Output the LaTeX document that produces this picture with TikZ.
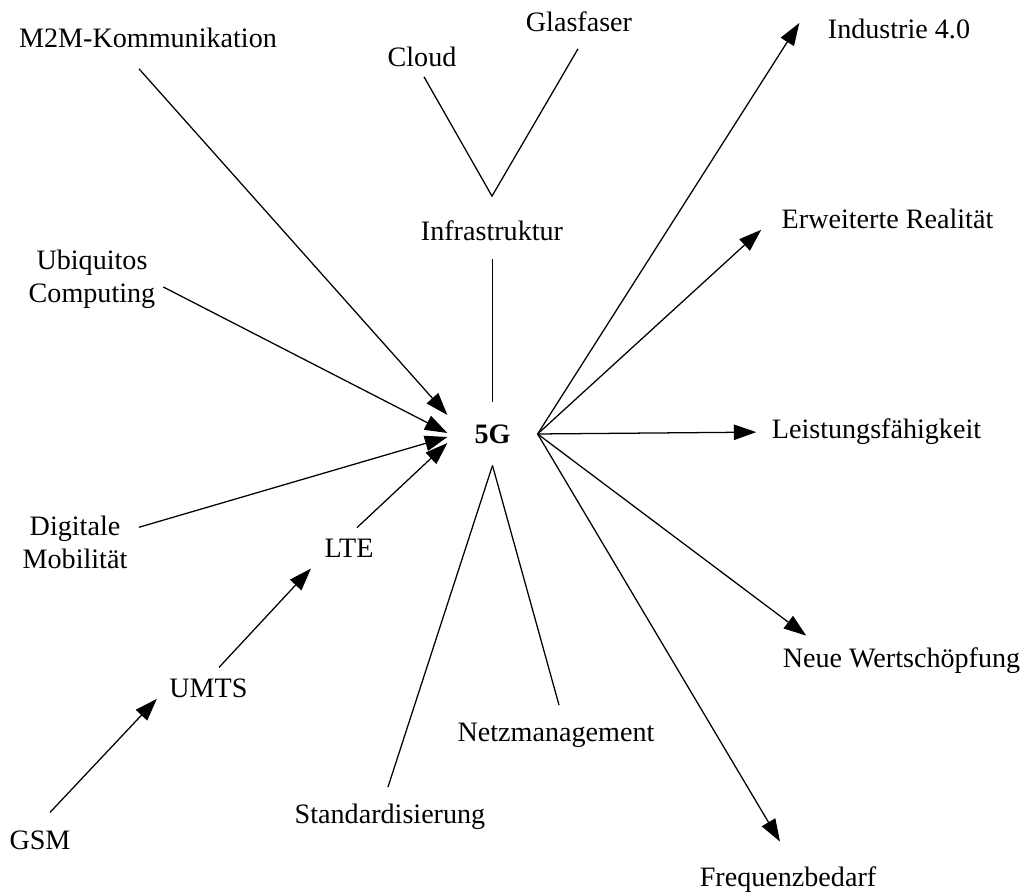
\documentclass[tikz,border=0pt]{standalone}
\usepackage{fontspec}
\setmainfont{Liberation Serif}
\usepackage{xcolor}
\usetikzlibrary{arrows.meta}
\definecolor{ink}{HTML}{000000}
\tikzset{
  lab/.style={text=ink, inner sep=0pt, anchor=base, font=\fontsize{10}{12}\selectfont},
  twolab/.style={text=ink, inner sep=0pt, align=center, font=\fontsize{10}{12}\selectfont},
  hub/.style={text=ink, inner sep=0pt, minimum width=31.7pt, minimum height=22pt, font=\fontsize{10}{12}\selectfont\bfseries},
  link/.style={draw=ink, line width=0.45pt},
  arr/.style={link, -{Triangle[length=8pt,width=5.5pt]}},
}

\begin{document}
\begin{tikzpicture}[x=0.125mm, y=-0.125mm]
  \useasboundingbox (0,0) rectangle (1029,894);

  % centre
  \node[hub] (g5) at (492.5,434) {5G};

  % drivers (left)
  \node[lab] (m2m) at (148,47.5) {M2M-Kommunikation};
  \node[twolab] (ubi) at (92,279.3) {Ubiquitos\\Computing};
  \node[twolab] (dig) at (75,542.3) {Digitale\\Mobilität};
  \node[lab] (lte) at (349,558) {LTE};
  \node[lab] (umts) at (208.5,698) {UMTS};
  \node[lab] (gsm) at (40,850) {GSM};

  % infrastructure (top)
  \node[lab] (infra) at (492,240.5) {Infrastruktur};
  \node[lab] (cloud) at (422,66.5) {Cloud};
  \node[lab] (glas) at (579,31.5) {Glasfaser};

  % requirements (bottom)
  \node[lab] (netz) at (556,742) {Netzmanagement};
  \node[lab] (std) at (390,824) {Standardisierung};

  % effects (right)
  \node[lab] (ind) at (899,38.5) {Industrie 4.0};
  \node[lab] (erw) at (887.5,229) {Erweiterte Realität};
  \node[lab] (leist) at (876.5,439) {Leistungsfähigkeit};
  \node[lab] (neue) at (901.5,668) {Neue Wertschöpfung};
  \node[lab] (freq) at (788,887) {Frequenzbedarf};

  \draw[arr] ([shift={(-9,20.5)}]m2m.south) -- ([shift={(0,-19)}]g5.west);
  \draw[arr] ([shift={(7.5,7.7)}]ubi.east) -- ([shift={(0,-1)}]g5.west);
  \draw[arr] ([shift={(11,-15)}]dig.east) -- ([shift={(0,3)}]g5.west);
  \draw[arr] ([shift={(8,-11.4)}]lte.north) -- ([shift={(0,9)}]g5.west);
  \draw[arr] ([shift={(10.5,-11.4)}]umts.north) -- ([shift={(-13,10)}]lte.south west);
  \draw[arr] ([shift={(10,-18.4)}]gsm.north) -- ([shift={(-12,10)}]umts.west);

  \draw[link] ([shift={(0.5,17.5)}]infra.south) -- (g5.north);
  \draw[link] ([shift={(2,9.5)}]cloud.south) -- ([shift={(0,-24)}]infra.north)
    -- ([shift={(-1,16.5)}]glas.south);

  \draw[link] (g5.south) -- ([shift={(3,-18)}]netz.north);
  \draw[link] (g5.south) -- ([shift={(-2,-17)}]std.north);

  \draw[arr] (g5.east) -- ([shift={(-28,-6)}]ind.west);
  \draw[arr] (g5.east) -- ([shift={(-20,0)}]erw.south west);
  \draw[arr] (g5.east) -- ([shift={(-15,0)}]leist.west);
  \draw[arr] (g5.east) -- ([shift={(24,-12)}]neue.north west);
  \draw[arr] (g5.east) -- ([shift={(-8,-25)}]freq.north);
\end{tikzpicture}
\end{document}
